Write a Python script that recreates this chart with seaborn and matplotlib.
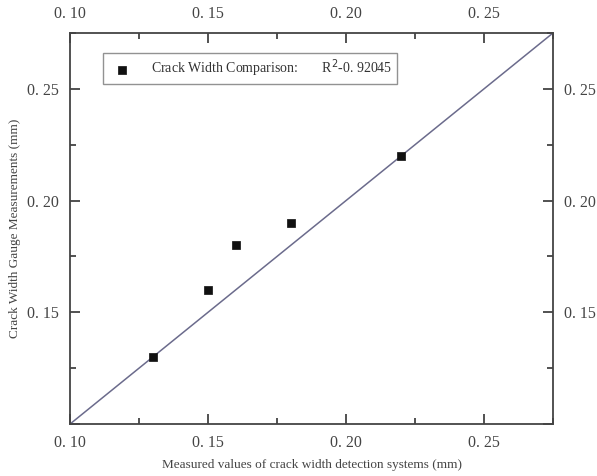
import numpy as np
import pandas as pd
import matplotlib
matplotlib.use('Agg')
import matplotlib.pyplot as plt
import seaborn as sns
from matplotlib.ticker import MultipleLocator, FuncFormatter

# valores
detection = [0.13, 0.15, 0.16, 0.18, 0.22]
gauge = [0.13, 0.16, 0.18, 0.19, 0.22]
label = 'Crack Width Comparison:       R$^{2}$-0. 92045'

df = pd.DataFrame({'detection': detection, 'gauge': gauge})

sns.set_style('ticks')
plt.rcParams['font.family'] = ['Liberation Serif', 'DejaVu Serif']

fig = plt.figure(figsize=(5.97, 4.76), dpi=100)
ax = fig.add_axes([0.1173, 0.1092, 0.8090, 0.8215])

# linha y = x
ax.axline((0.1, 0.1), slope=1, color='#6b6b8c', lw=1.1, zorder=1)

sns.scatterplot(data=df, x='detection', y='gauge', marker='s', s=40,
                color='#111111', edgecolor='#111111', label=label, ax=ax, zorder=3)

ax.set_xlim(0.10, 0.275)
ax.set_ylim(0.10, 0.275)

fmt = lambda v: ('%.2f' % v).replace('.', '. ')
for a in ['x', 'y']:
    getattr(ax, a + 'axis').set_major_locator(MultipleLocator(0.05))
    getattr(ax, a + 'axis').set_minor_locator(MultipleLocator(0.025))
ax.xaxis.set_major_formatter(FuncFormatter(lambda v, p: fmt(v)))
# no eixo y o 0.10 nao aparece
ax.yaxis.set_major_formatter(FuncFormatter(lambda v, p: '' if v < 0.11 else fmt(v)))

ax.tick_params(which='both', direction='in', top=True, right=True,
               labeltop=True, labelright=True, colors='#333333',
               labelcolor='#444444', labelsize=11.5, width=1.2, pad=8)
ax.tick_params(which='major', length=7)
ax.tick_params(which='minor', length=4)

for sp in ax.spines.values():
    sp.set_color('#444444')
    sp.set_linewidth(1.3)

ax.set_xlabel('Measured values of crack width detection systems (mm)',
              fontsize=9.5, color='#444444', labelpad=6)
ax.set_ylabel('Crack Width Gauge Measurements (mm)',
              fontsize=9.5, color='#444444', labelpad=4)

leg = ax.legend(loc='upper left', bbox_to_anchor=(0.068, 0.949), fontsize=10,
                frameon=True, fancybox=False, edgecolor='#777777',
                handletextpad=1.1, borderpad=0.35, borderaxespad=0.0,
                markerscale=1.0)
leg.get_frame().set_linewidth(1.0)
for t in leg.get_texts():
    t.set_color('#333333')

fig.savefig('out.png', dpi=100)
